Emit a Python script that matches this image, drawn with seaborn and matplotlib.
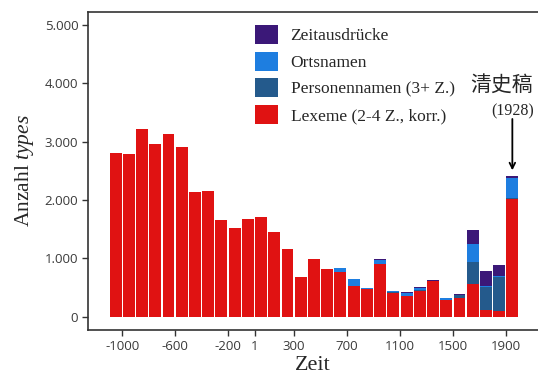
import matplotlib
matplotlib.use("Agg")
import matplotlib.pyplot as plt
from matplotlib.patches import Patch
import seaborn as sns
import pandas as pd

# Century bins (bin centres in years)
jahre = [-1050, -950, -850, -750, -650, -550, -450, -350, -250, -150, -50,
         50, 150, 250, 350, 450, 550, 650, 750, 850, 950, 1050, 1150, 1250,
         1350, 1450, 1550, 1650, 1750, 1850, 1950]

lexeme = [2806, 2789, 3218, 2961, 3132, 2910, 2138, 2155, 1658, 1521, 1675,
          1709, 1452, 1160, 681, 989, 817, 772, 532, 470, 909, 406, 355, 440,
          612, 286, 320, 566, 120, 97, 2013]
personennamen = [0, 0, 0, 0, 0, 0, 0, 0, 0, 0, 0,
                 0, 0, 0, 0, 0, 0, 0, 0, 0, 0, 17, 0, 17,
                 0, 0, 52, 371, 394, 583, 20]
ortsnamen = [0, 0, 0, 0, 0, 0, 0, 0, 0, 0, 0,
             0, 0, 0, 0, 0, 0, 63, 114, 22, 62, 17, 51, 35,
             0, 34, 0, 309, 17, 17, 340]
zeitausdruecke = [0, 0, 0, 0, 0, 0, 0, 0, 0, 0, 0,
                  0, 0, 0, 0, 0, 0, 0, 0, 0, 18, 0, 17, 17,
                  17, 0, 17, 240, 252, 189, 33]

serien = ["Zeitausdrücke", "Ortsnamen", "Personennamen (3+ Z.)",
          "Lexeme (2-4 Z., korr.)"]
farben = ["#3b1878", "#1e7ee0", "#245a8c", "#e01212"]

x_ticks = [-1000, -600, -200, 1, 300, 700, 1100, 1500, 1900]
y_ticks = [0, 1000, 2000, 3000, 4000, 5000]
y_ticklabels = ["0", "1.000", "2.000", "3.000", "4.000", "5.000"]

sns.set_style("white")
plt.rcParams["font.family"] = ["Open Sans", "DejaVu Sans"]
plt.rcParams["mathtext.fontset"] = "custom"
plt.rcParams["mathtext.rm"] = "Liberation Serif"
plt.rcParams["mathtext.it"] = "Liberation Serif:italic"

df = pd.DataFrame({"jahr": jahre, "lex": lexeme, "pers": personennamen,
                   "orts": ortsnamen, "zeit": zeitausdruecke})
# cumulative stack heights, bottom to top
df["c1"] = df["lex"]
df["c2"] = df["c1"] + df["pers"]
df["c3"] = df["c2"] + df["orts"]
df["c4"] = df["c3"] + df["zeit"]

fig = plt.figure(figsize=(5.38, 3.75), dpi=100)
ax = fig.add_axes([88 / 538, 45 / 375, 450 / 538, 318 / 375])

# draw the tallest cumulative layer first so lower layers sit on top of it
for col, farbe in zip(["c4", "c3", "c2", "c1"], farben):
    sns.barplot(data=df, x="jahr", y=col, native_scale=True, color=farbe,
                saturation=1, width=0.9, linewidth=0, errorbar=None, ax=ax)

ax.set_xlim(-1259, 2144)
ax.set_ylim(-228, 5224)
ax.set_xticks(x_ticks)
ax.set_xticklabels([str(t) for t in x_ticks])
ax.set_yticks(y_ticks)
ax.set_yticklabels(y_ticklabels)
ax.tick_params(axis="both", which="both", direction="out", length=4,
               width=1, color="#333333", labelsize=9.5, labelcolor="#3a3a3a",
               bottom=True, left=True, pad=3)

for side in ["left", "top", "bottom"]:
    ax.spines[side].set_visible(True)
    ax.spines[side].set_color("#333333")
    ax.spines[side].set_linewidth(1.2)
ax.spines["right"].set_visible(False)

ax.set_xlabel("Zeit", family="Liberation Serif", fontsize=16, labelpad=2)
ax.set_ylabel("Anzahl $\\mathit{types}$", family="Liberation Serif",
              fontsize=15.5, labelpad=6)

handles = [Patch(facecolor=f, edgecolor="none") for f in farben]
ax.legend(handles, serien, loc="upper left",
          bbox_to_anchor=(255 / 538, 1 - 25 / 375),
          bbox_transform=fig.transFigure, frameon=False,
          prop={"family": "Liberation Serif", "size": 12.5},
          handlelength=1.3, handleheight=1.3, labelspacing=0.43,
          handletextpad=0.75, borderaxespad=0, borderpad=0)

# marker for the Qingshigao
ax.annotate("", xy=(1950, 2510), xytext=(1950, 3390),
            arrowprops=dict(arrowstyle="->", color="black", lw=1.3,
                            shrinkA=0, shrinkB=0))
fig.text(533 / 538, 1 - 85 / 375, "清史稿", ha="right", va="center",
         family=["Noto Sans CJK SC", "DejaVu Sans"], fontsize=15)
fig.text(534 / 538, 1 - 111 / 375, "(1928)", ha="right", va="center",
         family="Liberation Serif", fontsize=11.5)

fig.savefig("out.png", dpi=100)
